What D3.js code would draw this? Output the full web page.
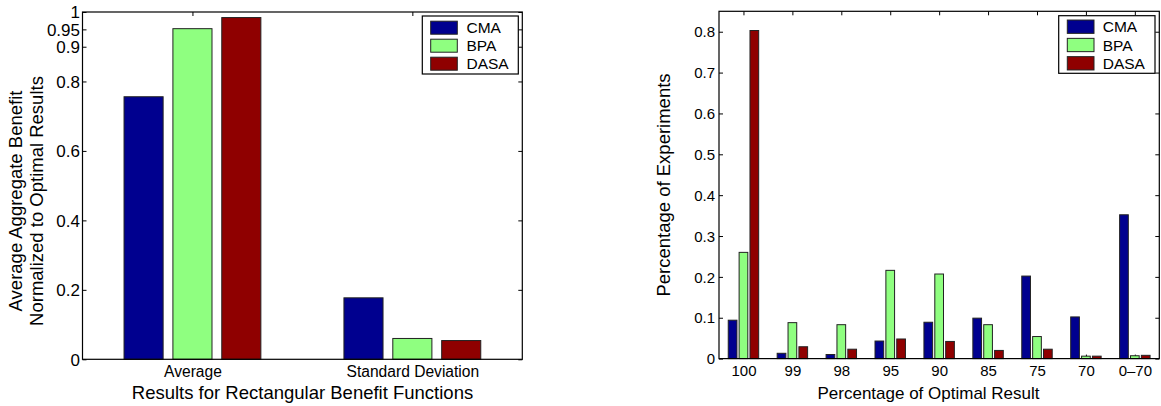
<!DOCTYPE html>
<html>
<head>
<meta charset="utf-8">
<script src="https://cdn.jsdelivr.net/npm/d3@7"></script>
<style>
  html, body { margin: 0; padding: 0; background: #fff; }
  svg { display: block; font-family: "Liberation Sans", Arial, Helvetica, sans-serif; }
  svg text { font-family: "Liberation Sans", Arial, Helvetica, sans-serif; fill: #000; }
</style>
</head>
<body>
<svg id="chart" width="1161" height="406"></svg>
<script>
// Series shared by both panels
const seriesNames = ["CMA", "BPA", "DASA"];
const seriesColors = ["#00008f", "#8fff80", "#8f0000"];

// Left panel: normalized aggregate benefit
const leftCategories = ["Average", "Standard Deviation"];
const leftCMA  = [0.756, 0.177];
const leftBPA  = [0.952, 0.060];
const leftDASA = [0.984, 0.054];
const leftYTicks = [0, 0.2, 0.4, 0.6, 0.8, 0.9, 0.95, 1];
const leftYTickLabels = ["0", "0.2", "0.4", "0.6", "0.8", "0.9", "0.95", "1"];

// Right panel: distribution of experiments by percentage of optimal result
const rightCategories = ["100", "99", "98", "95", "90", "85", "75", "70", "0\u201370"];
const rightCMA  = [0.094, 0.013, 0.010, 0.043, 0.089, 0.099, 0.202, 0.102, 0.352];
const rightBPA  = [0.260, 0.088, 0.083, 0.216, 0.207, 0.083, 0.054, 0.006, 0.007];
const rightDASA = [0.803, 0.029, 0.023, 0.048, 0.042, 0.020, 0.023, 0.006, 0.008];
const rightYTicks = [0, 0.1, 0.2, 0.3, 0.4, 0.5, 0.6, 0.7, 0.8];
const rightYTickLabels = ["0", "0.1", "0.2", "0.3", "0.4", "0.5", "0.6", "0.7", "0.8"];

const svg = d3.select("#chart");

// Grouped bar geometry in category units (3 series per group)
const groupWidth = 2 / 3;
const barOffset = groupWidth / 3;
const barWidth = barOffset * 0.8;

function drawPanel(cfg) {
  const x = d3.scaleLinear().domain([0.5, cfg.categories.length + 0.5]).range([cfg.left, cfg.right]);
  const y = d3.scaleLinear().domain(cfg.yDomain).range([cfg.bottom, cfg.top]);
  const catIdx = cfg.categories.map((_, i) => i + 1);
  const g = svg.append("g");
  const tick = 4;

  // inward ticks on all four sides
  g.append("g").attr("class", "axis").attr("transform", `translate(${cfg.left},0)`)
    .call(d3.axisLeft(y).tickValues(cfg.yTicks).tickSizeInner(-tick).tickSizeOuter(0)
      .tickPadding(cfg.yPad).tickFormat((d, i) => cfg.yTickLabels[i]))
    .call(s => s.selectAll("text").attr("font-size", cfg.yTickFont).attr("dy", "0.35em"))
    .call(s => s.select(".domain").remove());
  g.append("g").attr("class", "axis").attr("transform", `translate(${cfg.right},0)`)
    .call(d3.axisRight(y).tickValues(cfg.yTicks).tickSizeInner(-tick).tickSizeOuter(0).tickFormat(""))
    .call(s => s.select(".domain").remove());
  g.append("g").attr("class", "axis").attr("transform", `translate(0,${cfg.top})`)
    .call(d3.axisTop(x).tickValues(catIdx).tickSizeInner(-tick).tickSizeOuter(0).tickFormat(""))
    .call(s => s.select(".domain").remove());
  g.append("g").attr("class", "axis").attr("transform", `translate(0,${cfg.bottom})`)
    .call(d3.axisBottom(x).tickValues(catIdx).tickSizeInner(-tick).tickSizeOuter(0)
      .tickPadding(cfg.xPad).tickFormat((d, i) => cfg.categories[i]))
    .call(s => s.selectAll("text").attr("font-size", cfg.xTickFont).attr("dy", "0.71em"))
    .call(s => s.select(".domain").remove());
  g.selectAll(".axis line").attr("stroke", "#000");

  // bars
  cfg.series.forEach((vals, si) => {
    g.append("g").selectAll("rect").data(vals).join("rect")
      .attr("x", (d, i) => x(i + 1 + (si - 1) * barOffset - barWidth / 2))
      .attr("width", x(barWidth) - x(0))
      .attr("y", d => y(d))
      .attr("height", d => y(0) - y(d))
      .attr("fill", seriesColors[si])
      .attr("stroke", "#222")
      .attr("stroke-width", 1);
  });

  // axes box
  g.append("rect")
    .attr("x", cfg.left).attr("y", cfg.top)
    .attr("width", cfg.right - cfg.left).attr("height", cfg.bottom - cfg.top)
    .attr("fill", "none").attr("stroke", "#000").attr("stroke-width", 1.2);

  // legend
  const L = cfg.legend;
  const lg = g.append("g");
  lg.append("rect").attr("x", L.x0).attr("y", L.y0).attr("width", L.x1 - L.x0).attr("height", L.y1 - L.y0)
    .attr("fill", "#fff").attr("stroke", "#000").attr("stroke-width", 1.2);
  seriesNames.forEach((name, i) => {
    const cy = L.y0 + L.rowTop + i * L.rowStep;
    lg.append("rect").attr("x", L.sx0).attr("y", cy - L.swH / 2).attr("width", L.sx1 - L.sx0).attr("height", L.swH)
      .attr("fill", seriesColors[i]).attr("stroke", "#222").attr("stroke-width", 1);
    lg.append("text").attr("x", L.tx).attr("y", cy).attr("dy", "0.36em")
      .attr("font-size", L.font).text(name);
  });

  // axis titles
  g.append("text").attr("x", cfg.xLabelX).attr("y", cfg.xLabelY)
    .attr("text-anchor", "middle").attr("font-size", cfg.labelFont).text(cfg.xLabel);
  cfg.yLabel.forEach((line, i) => {
    g.append("text")
      .attr("transform", `translate(${cfg.yLabelX[i]},${cfg.yLabelY}) rotate(-90)`)
      .attr("text-anchor", "middle").attr("font-size", cfg.yLabelFont).text(line);
  });
}

drawPanel({
  categories: leftCategories,
  series: [leftCMA, leftBPA, leftDASA],
  yDomain: [0, 1], yTicks: leftYTicks, yTickLabels: leftYTickLabels,
  left: 82.5, right: 522.3, top: 12, bottom: 359.3,
  yTickFont: 17, xTickFont: 15.6, yPad: 2.5, xPad: 7,
  legend: { x0: 422.3, x1: 518.3, y0: 16, y1: 74, rowTop: 11.7, rowStep: 18,
            sx0: 430.7, sx1: 457.3, swH: 13, tx: 466.5, font: 15.5 },
  xLabel: "Results for Rectangular Benefit Functions", xLabelX: 302.5, xLabelY: 399, labelFont: 18.5,
  yLabel: ["Average Aggregate Benefit", "Normalized to Optimal Results"],
  yLabelX: [22, 42.5], yLabelY: 201, yLabelFont: 18.5
});

drawPanel({
  categories: rightCategories,
  series: [rightCMA, rightBPA, rightDASA],
  yDomain: [0, 0.85], yTicks: rightYTicks, yTickLabels: rightYTickLabels,
  left: 719, right: 1159.3, top: 11.3, bottom: 358.6,
  yTickFont: 15, xTickFont: 15, yPad: 4, xPad: 7,
  legend: { x0: 1058.7, x1: 1155, y0: 15.7, y1: 73.3, rowTop: 11, rowStep: 18.3,
            sx0: 1067.3, sx1: 1094, swH: 13.3, tx: 1102.7, font: 15.5 },
  xLabel: "Percentage of Optimal Result", xLabelX: 928.5, xLabelY: 399, labelFont: 17,
  yLabel: ["Percentage of Experiments"],
  yLabelX: [670], yLabelY: 185, yLabelFont: 18.5
});
</script>
</body>
</html>
